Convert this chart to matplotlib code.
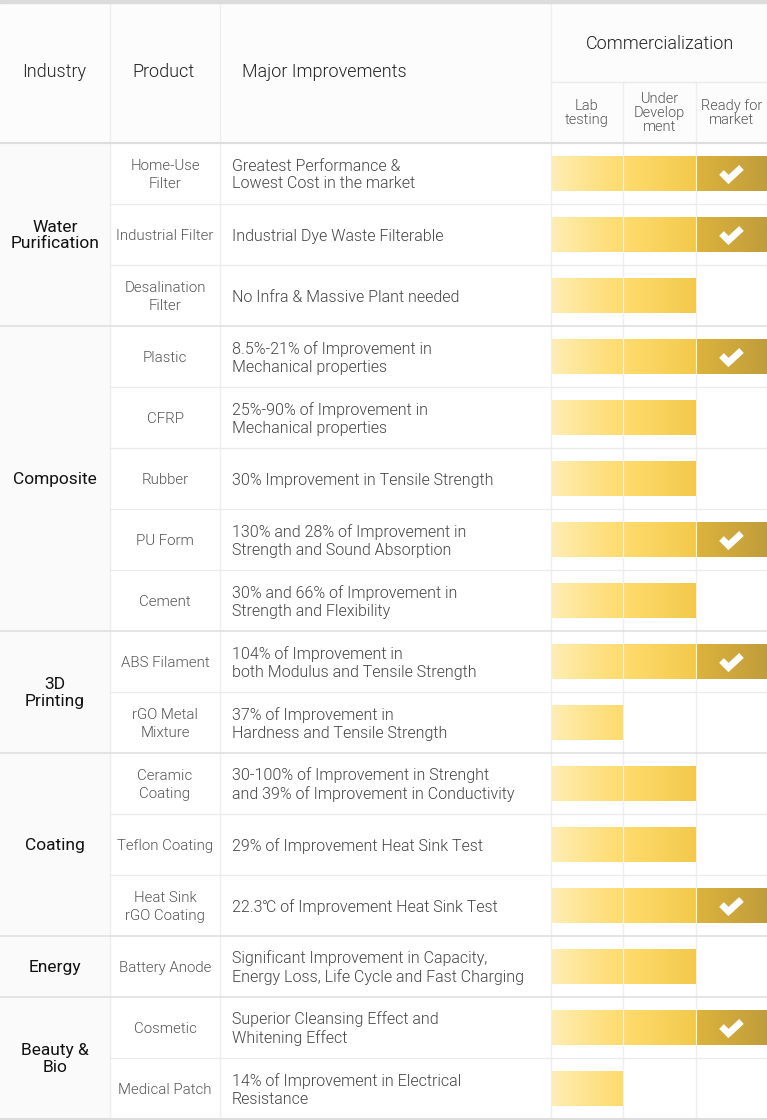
import numpy as np
import matplotlib
matplotlib.use("Agg")
import matplotlib.pyplot as plt
from matplotlib.colors import LinearSegmentedColormap, to_rgb
from matplotlib.patches import Rectangle

# ---------------- data ----------------
industries = ["Water\nPurification", "Composite", "3D\nPrinting", "Coating", "Energy", "Beauty &\nBio"]
industry_sizes = [3, 5, 2, 3, 1, 2]
products = ["Home-Use\nFilter", "Industrial Filter", "Desalination\nFilter",
            "Plastic", "CFRP", "Rubber", "PU Form", "Cement",
            "ABS Filament", "rGO Metal\nMixture",
            "Ceramic\nCoating", "Teflon Coating", "Heat Sink\nrGO Coating",
            "Battery Anode",
            "Cosmetic", "Medical Patch"]
improvements = ["Greatest Performance &\nLowest Cost in the market",
                "Industrial Dye Waste Filterable",
                "No Infra & Massive Plant needed",
                "8.5%-21% of Improvement in\nMechanical properties",
                "25%-90% of Improvement in\nMechanical properties",
                "30% Improvement in Tensile Strength",
                "130% and 28% of Improvement in\nStrength and Sound Absorption",
                "30% and 66% of Improvement in\nStrength and Flexibility",
                "104% of Improvement in\nboth Modulus and Tensile Strength",
                "37% of Improvement in\nHardness and Tensile Strength",
                "30-100% of Improvement in Strenght\nand 39% of Improvement in Conductivity",
                "29% of Improvement Heat Sink Test",
                "22.3\u2103 of Improvement Heat Sink Test",
                "Significant Improvement in Capacity,\nEnergy Loss, Life Cycle and Fast Charging",
                "Superior Cleansing Effect and\nWhitening Effect",
                "14% of Improvement in Electrical\nResistance"]
stage = [3, 3, 2, 3, 2, 2, 3, 2, 3, 1, 2, 2, 3, 2, 3, 1]
stage_labels = ["Lab\ntesting", "Under\nDevelop\nment", "Ready for\nmarket"]
headers = ["Industry", "Product", "Major Improvements", "Commercialization"]

# ---------------- layout ----------------
W, H = 767, 1120
fig = plt.figure(figsize=(W / 100, H / 100), dpi=100)
ax = fig.add_axes([0, 0, 1, 1])
ax.set_xlim(0, W)
ax.set_ylim(H, 0)
ax.axis("off")

FONT = ["Roboto", "DejaVu Sans"]
LW = 300
col_x = [0, 110, 220, 551, 623, 696, 767]
head_top, head_mid, head_bot = 3, 82, 143
row_h = 61
n = len(products)
line_c = "#EBEBEB"
grp_c = "#E0E0E0"

# backgrounds
ax.add_patch(Rectangle((0, head_top), W, head_bot - head_top, color="#FCFCFC", zorder=0))
ax.add_patch(Rectangle((0, head_bot), col_x[1], n * row_h, color="#FAFAFA", zorder=0))

# top border
ax.add_patch(Rectangle((0, 0), W, 3, color="#DCDCDC", zorder=3))

# header lines
for x in col_x[1:4]:
    ax.plot([x, x], [head_top, H], color="#EEEEEE", lw=1, zorder=1)
for x in col_x[4:6]:
    ax.plot([x, x], [head_mid, H], color="#EEEEEE", lw=1, zorder=1)
ax.plot([col_x[3], W], [head_mid, head_mid], color=line_c, lw=1, zorder=1)
ax.plot([0, W], [head_bot, head_bot], color="#DDDDDD", lw=1.5, zorder=2)

# header texts
hc = "#222222"
hs = 13
ax.text(54, 72, headers[0], ha="center", va="center", fontsize=hs, color=hc, family=FONT, fontweight=LW)
ax.text(163, 72, headers[1], ha="center", va="center", fontsize=hs, color=hc, family=FONT, fontweight=LW)
ax.text(242, 72, headers[2], ha="left", va="center", fontsize=hs, color=hc, family=FONT, fontweight=LW)
ax.text(660, 44, headers[3], ha="center", va="center", fontsize=hs, color=hc, family=FONT, fontweight=LW)
for i, lab in enumerate(stage_labels):
    cx = (col_x[3 + i] + col_x[4 + i]) / 2
    ax.text(cx, 113, lab, ha="center", va="center", fontsize=10.5, color="#555555",
            family=FONT, fontweight=LW, linespacing=0.98)

# row lines and group lines
row_top = [head_bot + i * row_h for i in range(n + 1)]
group_starts = np.cumsum([0] + industry_sizes)
for i in range(1, n):
    if i in group_starts:
        ax.plot([0, W], [row_top[i], row_top[i]], color=grp_c, lw=1.2, zorder=2)
    else:
        ax.plot([col_x[1], W], [row_top[i], row_top[i]], color=line_c, lw=1, zorder=1)
ax.plot([0, W], [row_top[n], row_top[n]], color="#DDDDDD", lw=1.5, zorder=2)

# industry labels
for g, name in enumerate(industries):
    y0 = row_top[group_starts[g]]
    y1 = row_top[group_starts[g + 1]]
    ax.text(55, (y0 + y1) / 2 + 1, name, ha="center", va="center", fontsize=12.5,
            color="#111111", family=FONT, linespacing=1.12)

# segment gradients
seg_cols = [("#FFEDB4", "#FEDB6C"), ("#FEDC6E", "#F3C94C"), ("#DDB33C", "#C09D3C")]
grad = np.linspace(0, 1, 256).reshape(1, -1)
cmaps = [LinearSegmentedColormap.from_list(f"s{i}", [to_rgb(a), to_rgb(b)]) for i, (a, b) in enumerate(seg_cols)]

for i in range(n):
    yc = row_top[i] + row_h / 2
    ax.text(165, yc + 1.5, products[i], ha="center", va="center", fontsize=10.8, color="#555555",
            family=FONT, fontweight=LW, linespacing=1.3)
    ax.text(232, yc + 1.5, improvements[i], ha="left", va="center", fontsize=11.5, color="#444444",
            family=FONT, fontweight=LW, linespacing=1.24)
    bh = 35
    for s in range(stage[i]):
        x0 = col_x[3 + s] + 1
        x1 = col_x[4 + s]
        ax.imshow(grad, cmap=cmaps[s], extent=(x0, x1, yc + bh / 2, yc - bh / 2),
                  aspect="auto", zorder=3, interpolation="bilinear")
        if s > 0:
            ax.plot([x0 - 1, x0 - 1], [yc - bh / 2, yc + bh / 2], color="white", alpha=0.35, lw=1, zorder=4)
    if stage[i] == 3:
        cx = (col_x[5] + col_x[6]) / 2
        ax.plot([cx - 10, cx - 3, cx + 10], [yc - 1, yc + 6, yc - 6], color="white", lw=4.8,
                solid_capstyle="butt", solid_joinstyle="miter", zorder=5)

ax.set_xlim(0, W)
ax.set_ylim(H, 0)
fig.savefig("out.png", dpi=100, facecolor="white")
